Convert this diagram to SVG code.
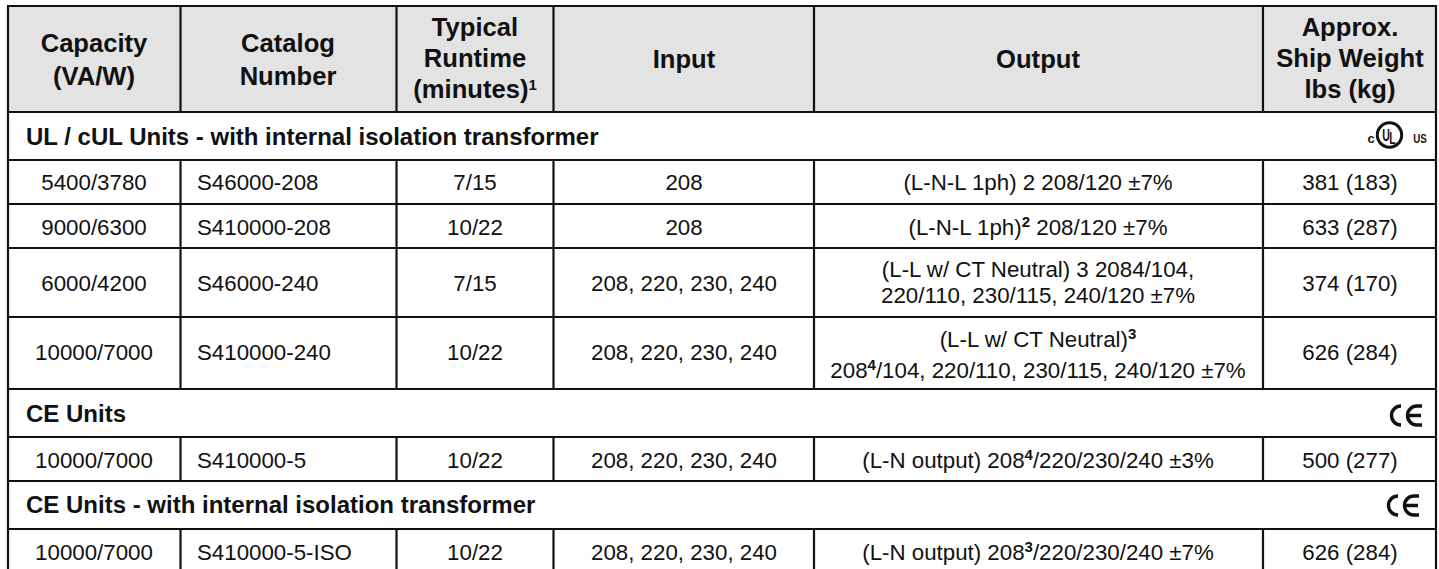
<svg xmlns="http://www.w3.org/2000/svg" width="1439" height="569" viewBox="0 0 1439 569">
<style>
text{font-family:"Liberation Sans",Arial,sans-serif;fill:#111;text-anchor:middle;font-size:22.3px}
.a{text-anchor:start}
.h{font-weight:700;font-size:25.6px}
.s{font-weight:700;font-size:24px;text-anchor:start}
.l{stroke:#111;stroke-width:2.2;fill:none}
.sup{font-size:15px;font-weight:700}
.ce{fill:none;stroke:#111;stroke-width:3.4}
.m{font-weight:700;font-size:17px}
.n{font-weight:700;font-size:13px}
</style>
<rect width="1439" height="569" fill="#fff"/>
<rect x="8" y="6" width="1428" height="106" fill="#e3e3e3"/>
<g id="grid">
<path class="l" d="M7 6H1436V569M8 6V569M8 112H1436M8 160H1436M8 204H1436M8 248H1436M8 317H1436M8 389H1436M8 437H1436M8 481H1436M8 529H1436"/>
<path class="l" d="M180.500 6V112M180.500 160V389M180.500 437V481M180.500 529V569M396.500 6V112M396.500 160V389M396.500 437V481M396.500 529V569M553.500 6V112M553.500 160V389M553.500 437V481M553.500 529V569M814 6V112M814 160V389M814 437V481M814 529V569M1263 6V112M1263 160V389M1263 437V481M1263 529V569"/>
</g>
<g id="header">
<text class="h" x="94" y="52">Capacity</text><text class="h" x="94" y="85">(VA/W)</text>
<text class="h" x="288" y="52">Catalog</text><text class="h" x="288" y="85">Number</text>
<text class="h" x="475" y="36">Typical</text><text class="h" x="475" y="67">Runtime</text><text class="h" x="475" y="98">(minutes)<tspan class="sup" dy="-8">1</tspan></text>
<text class="h" x="684" y="68">Input</text><text class="h" x="1038" y="68">Output</text>
<text class="h" x="1350" y="36">Approx.</text><text class="h" x="1350" y="67">Ship Weight</text><text class="h" x="1350" y="98">lbs (kg)</text>
</g>
<g id="sections">
<text class="s" x="26" y="145">UL / cUL Units - with internal isolation transformer</text>
<text class="s" x="26" y="422">CE Units</text>
<text class="s" x="26" y="513">CE Units - with internal isolation transformer</text>
</g>
<g id="row1"><text x="94" y="190">5400/3780</text><text class="a" x="197" y="190">S46000-208</text><text x="475" y="190">7/15</text><text x="684" y="190">208</text><text x="1038" y="190">(L-N-L 1ph) 2 208/120 ±7%</text><text x="1350" y="190">381 (183)</text></g>
<g id="row2"><text x="94" y="235">9000/6300</text><text class="a" x="197" y="235">S410000-208</text><text x="475" y="235">10/22</text><text x="684" y="235">208</text><text x="1038" y="235">(L-N-L 1ph)<tspan class="sup" dy="-8">2</tspan><tspan dy="8"> 208/120 ±7%</tspan></text><text x="1350" y="235">633 (287)</text></g>
<g id="row3"><text x="94" y="291">6000/4200</text><text class="a" x="197" y="291">S46000-240</text><text x="475" y="291">7/15</text><text x="684" y="291">208, 220, 230, 240</text><text x="1038" y="277">(L-L w/ CT Neutral) 3 2084/104,</text><text x="1038" y="303">220/110, 230/115, 240/120 ±7%</text><text x="1350" y="291">374 (170)</text></g>
<g id="row4"><text x="94" y="360">10000/7000</text><text class="a" x="197" y="360">S410000-240</text><text x="475" y="360">10/22</text><text x="684" y="360">208, 220, 230, 240</text><text x="1038" y="347">(L-L w/ CT Neutral)<tspan class="sup" dy="-8">3</tspan></text><text x="1038" y="378">208<tspan class="sup" dy="-8">4</tspan><tspan dy="8">/104, 220/110, 230/115, 240/120 ±7%</tspan></text><text x="1350" y="360">626 (284)</text></g>
<g id="row5"><text x="94" y="468">10000/7000</text><text class="a" x="197" y="468">S410000-5</text><text x="475" y="468">10/22</text><text x="684" y="468">208, 220, 230, 240</text><text x="1038" y="468">(L-N output) 208<tspan class="sup" dy="-8">4</tspan><tspan dy="8">/220/230/240 ±3%</tspan></text><text x="1350" y="468">500 (277)</text></g>
<g id="row6"><text x="94" y="560">10000/7000</text><text class="a" x="197" y="560">S410000-5-ISO</text><text x="475" y="560">10/22</text><text x="684" y="560">208, 220, 230, 240</text><text x="1038" y="560">(L-N output) 208<tspan class="sup" dy="-8">3</tspan><tspan dy="8">/220/230/240 ±7%</tspan></text><text x="1350" y="560">626 (284)</text></g>
<g id="ul-mark"><circle cx="1389.500" cy="135" r="12.200" fill="none" stroke="#111" stroke-width="3"/><text class="m" transform="translate(1386 141) scale(.62 1)">U</text><text class="m" transform="translate(1392.500 144) scale(.62 1)">L</text><text class="n" x="1371" y="143">c</text><text class="n" transform="translate(1420 143) scale(.75 1)">US</text></g>
<g id="ce1" class="ce"><path d="M1401 406A9.500 9.500 0 0 0 1401 425M1422 406H1417A9.500 9.500 0 0 0 1417 425H1422M1409 415.500H1421"/></g>
<g id="ce2" class="ce"><path d="M1398 496A9.500 9.500 0 0 0 1398 515M1419 496H1414A9.500 9.500 0 0 0 1414 515H1419M1406 505.500H1418"/></g>
</svg>
